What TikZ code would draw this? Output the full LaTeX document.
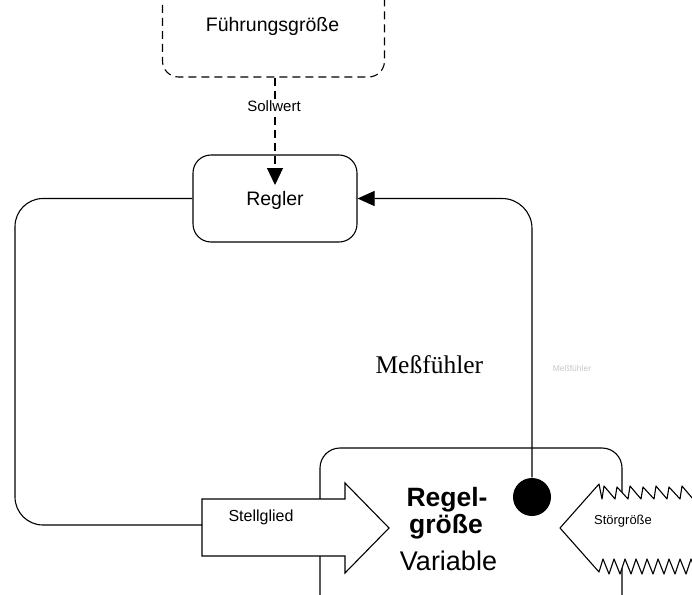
\documentclass[tikz,border=0pt]{standalone}
\usepackage{fontspec}
\setmainfont{Liberation Sans}
\newfontfamily\serifface{Liberation Serif}
\usetikzlibrary{arrows.meta}
\begin{document}
\begin{tikzpicture}[x=1pt,y=-1pt,
  line width=1.1pt,
  box/.style={draw, rounded corners=#1, inner sep=0pt},
  lbl/.style={inner sep=0pt, anchor=base},
  tipin/.style={-{Triangle[length=17pt,width=15pt]}},
  dashline/.style={dashed, dash pattern=on 8pt off 5pt},
]
\useasboundingbox (0,0) rectangle (692,594);
\clip (0,0) rectangle (692,594);

% controlled process, open at the bottom
\node[box=20pt, minimum width=302pt, minimum height=200pt] (proc) at (471,548) {};

% setpoint source, open at the top
\node[box=16pt, dashline, minimum width=222pt, minimum height=120pt] (fg) at (273.5,17) {};
\node[lbl, font=\fontsize{19.5}{20}\selectfont] (fgtext) at (272.5,32) {Führungsgröße};

% controller
\node[box=18pt, minimum width=164pt, minimum height=87pt,
      font=\fontsize{19.5}{20}\selectfont, text depth=0pt] (regler) at (275,198.5) {Regler};

% setpoint path
\coordinate (sollTip) at (275,185);
\draw[dashline, -{Triangle[length=17pt,width=16pt]}] (sollTip |- fg.south) -- (sollTip);
\node[fill=white, inner sep=1.5pt, font=\fontsize{15}{16}\selectfont] (soll) at (274,106) {Sollwert};

% actuator arrow
\draw[fill=white, line join=miter]
  (202,499) coordinate (sgtop) -- (345,499) -- (345,483) -- (389,528) coordinate (sgtip)
  -- (345,573) -- (345,556) -- (202,556) -- cycle;
\coordinate (sgback) at (202,525);
\node[lbl, font=\fontsize{16}{16}\selectfont] (sgtext) at (261,521) {Stellglied};

% disturbance arrow with jagged shaft
\draw[fill=white, line join=round]
  (560,528) coordinate (stip) -- (599,484)
  -- (602,499) -- (604,486) -- (615,499) -- (617,487) -- (628,499) -- (630,486)
  -- (641,499) -- (643,487) -- (654,499) -- (656,486) -- (667,499) -- (669,487)
  -- (680,499) -- (682,486) -- (693,499) -- (695,487) -- (702,495)
  -- (702,565)
  -- (697,574) -- (691,559) -- (686,574) -- (680,559) -- (675,574) -- (669,559)
  -- (664,574) -- (658,559) -- (653,574) -- (647,559) -- (642,574) -- (636,559)
  -- (631,574) -- (625,559) -- (620,574) -- (614,559) -- (609,574) -- (603,559)
  -- (599,572) -- cycle;
\node[lbl, font=\fontsize{13}{13}\selectfont] (stext) at (623,524) {Störgröße};

% process variable labels
\node[lbl, font=\bfseries\fontsize{26.5}{27}\selectfont] (rg1) at (447,506) {Regel-};
\node[lbl, font=\bfseries\fontsize{26.5}{27}\selectfont] (rg2) at (446,533) {größe};
\node[lbl, font=\fontsize{27}{27}\selectfont] (var) at (448.5,570) {Variable};

% sensor
\node[circle, fill, minimum size=38pt, inner sep=0pt] (dot) at (532,497) {};
\draw[tipin, rounded corners=30pt] (dot.north) |- (regler.east);
\node[lbl, anchor=base west, font=\serifface\fontsize{25.5}{26}\selectfont] (mf) at (375,373) {Meßfühler};
\node[lbl, text=black!22, font=\fontsize{8.5}{9}\selectfont] (mfsmall) at (572,371) {Meßfühler};

% controller output to actuator
\coordinate (lc) at (15,525);
\draw[rounded corners=28pt] (regler.west) -| (lc) -- (sgback);
\end{tikzpicture}
\end{document}
